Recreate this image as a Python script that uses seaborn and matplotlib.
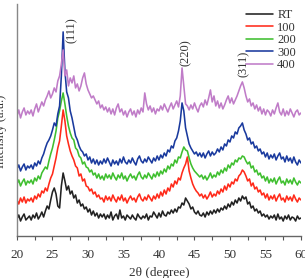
import numpy as np
import pandas as pd
import matplotlib
matplotlib.use("Agg")
import matplotlib.pyplot as plt
import seaborn as sns

two_theta = [20 + 0.25 * i for i in range(161)]

rt = [17,21,15,19,22,16,18,20,
      16,21,18,23,17,20,24,19,
      25,30,27,36,44,48,42,30,
      28,50,63,55,46,50,42,45,
      38,41,33,36,30,32,27,29,
      24,27,21,25,20,23,18,22,
      19,22,17,21,18,24,16,20,
      22,17,26,18,20,16,21,19,
      17,21,18,16,22,19,17,20,
      18,22,16,20,19,24,21,18,
      23,19,25,21,20,24,22,26,
      23,27,24,29,28,33,31,38,
      35,32,27,29,24,22,25,21,
      20,23,19,24,21,25,22,26,
      23,27,24,28,26,30,27,32,
      29,34,31,36,33,38,35,40,
      37,39,32,34,28,30,25,27,
      23,25,20,22,19,21,17,20,
      18,21,16,22,17,19,15,20,
      17,21,16,19,18,15,20,17,
      18]

s100 = [36,32,38,34,39,33,37,35,
        38,34,40,37,42,39,45,43,
        48,45,52,58,62,70,78,88,
        95,110,126,115,100,92,85,80,
        76,70,68,60,62,55,57,50,
        49,45,47,42,44,39,41,37,
        38,34,40,36,39,35,41,37,
        34,39,36,41,35,38,33,37,
        40,36,38,34,39,42,37,35,
        39,36,41,38,35,40,37,42,
        38,44,40,46,42,48,45,52,
        49,55,52,58,56,63,68,72,
        79,65,58,52,48,45,43,40,
        42,38,41,37,40,44,39,42,
        40,45,42,47,44,50,46,52,
        49,54,52,57,55,60,62,66,
        64,60,55,57,50,53,47,49,
        44,46,41,43,38,42,36,40,
        37,41,35,39,42,36,38,34,
        40,36,39,35,41,37,34,38,
        36]

s200 = [52,56,50,54,57,51,55,53,
        56,52,58,55,60,57,63,66,
        69,67,75,82,88,96,105,118,
        125,135,143,132,120,110,103,98,
        96,88,86,80,78,72,74,69,
        68,64,66,61,63,58,62,57,
        60,56,62,58,61,57,63,59,
        56,61,58,63,57,60,55,59,
        62,58,60,56,61,64,59,57,
        61,58,63,60,57,62,59,64,
        60,65,62,67,64,70,67,72,
        70,76,73,79,78,84,89,86,
        85,78,72,68,65,63,61,59,
        61,57,60,56,59,63,58,61,
        59,64,61,66,63,68,65,71,
        68,73,71,76,74,78,77,80,
        79,75,72,74,68,70,64,66,
        61,63,58,60,55,59,53,57,
        54,58,52,56,59,53,55,51,
        57,53,56,52,58,54,51,55,
        53]

s300 = [67,71,65,69,72,66,70,68,
        71,67,73,70,75,72,78,82,
        88,93,96,100,106,113,110,122,
        130,160,204,165,144,138,125,118,
        109,100,96,90,86,84,80,82,
        76,79,73,77,72,76,71,75,
        72,77,73,78,74,70,76,72,
        75,71,77,73,79,74,72,76,
        73,78,74,71,77,80,75,73,
        77,74,79,76,73,78,75,80,
        76,81,78,83,80,86,84,90,
        88,95,98,105,115,133,125,108,
        100,92,88,85,82,84,80,83,
        79,83,78,82,85,80,84,81,
        83,87,84,89,86,92,90,96,
        94,100,98,104,102,108,110,113,
        106,102,96,98,92,94,88,90,
        85,87,82,84,79,83,77,81,
        78,82,76,80,83,77,79,74,
        80,75,78,73,79,74,71,76,
        73]

s400 = [120,126,118,124,128,121,125,122,
        126,120,127,132,124,129,134,130,
        136,140,145,138,142,148,144,155,
        160,172,186,160,166,150,158,153,
        160,148,152,145,150,158,163,152,
        146,142,138,140,136,132,135,128,
        131,126,129,124,128,122,127,121,
        128,132,124,127,121,125,119,124,
        127,121,125,119,126,122,128,124,
        143,132,126,130,124,128,122,127,
        125,130,126,132,128,124,129,133,
        127,131,135,129,140,168,150,132,
        130,126,131,127,133,128,124,130,
        133,129,136,131,138,146,134,140,
        130,135,128,133,127,131,136,140,
        133,138,132,136,140,145,150,154,
        148,140,134,137,130,133,127,131,
        125,129,122,127,121,126,124,120,
        126,122,128,133,124,121,127,120,
        125,121,127,123,119,124,126,121,
        123]

series_names = ["RT", "100", "200", "300", "400"]
series_values = [rt, s100, s200, s300, s400]
colors = ["#222222", "#ff2a1a", "#3fbf2f", "#1a3a9e", "#c07cc8"]

peak_labels = ["(111)", "(220)", "(311)"]
peak_x = [27.75, 43.8, 52.0]
peak_y = [206, 183, 172]

frames = []
for name, vals in zip(series_names, series_values):
    frames.append(pd.DataFrame({"x": two_theta, "y": vals, "series": name}))
df = pd.concat(frames, ignore_index=True)

sns.set_style("white")
plt.rcParams["font.family"] = ["Liberation Serif", "DejaVu Serif"]

fig = plt.figure(figsize=(3.05, 2.78), dpi=100)
ax = fig.add_axes([0.0557, 0.151, 0.931, 0.835])

sns.lineplot(data=df, x="x", y="y", hue="series", hue_order=series_names,
             palette=colors, linewidth=1.15, ax=ax, estimator=None, sort=False)

ax.set_xlim(20, 60)
ax.set_ylim(0, 232)
ax.set_yticks([])
ax.set_xticks([20, 25, 30, 35, 40, 45, 50, 55, 60])
ax.set_xticks([22.5, 27.5, 32.5, 37.5, 42.5, 47.5, 52.5, 57.5], minor=True)
ax.tick_params(axis="x", which="both", direction="out", length=3, width=0.8,
               colors="#555555", labelcolor="#333333", labelsize=9.5, pad=6,
               bottom=True)
for s in ["top", "right"]:
    ax.spines[s].set_visible(False)
ax.spines["left"].set_color("#888888")
ax.spines["bottom"].set_color("#666666")
ax.spines["left"].set_linewidth(1.0)
ax.spines["bottom"].set_linewidth(1.0)

ax.set_xlabel("2θ (degree)", fontsize=9.5, color="#333333", labelpad=5)
ax.set_ylabel("Intensity (a.u.)", fontsize=9, color="#333333", labelpad=2)
ax.yaxis.set_label_coords(-0.035, 0.45)

for lab, px, py in zip(peak_labels, peak_x, peak_y):
    ax.text(px, py, lab, rotation=90, ha="center", va="center",
            fontsize=9, color="#333333")

leg = ax.legend(loc="upper right", bbox_to_anchor=(1.0, 1.0), frameon=False,
                fontsize=9, handlelength=2.2, handletextpad=0.3,
                labelspacing=0.05, borderaxespad=0.0)
for t in leg.get_texts():
    t.set_color("#333333")

fig.savefig("out.png", dpi=100)
